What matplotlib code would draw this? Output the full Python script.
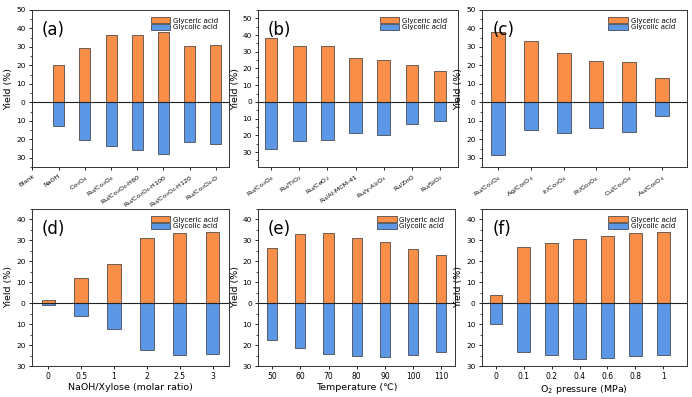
import matplotlib.pyplot as plt
from matplotlib.ticker import MultipleLocator, FuncFormatter
import matplotlib.transforms as mtransforms

# panel (a)
cat_a = ['Blank', 'NaOH', 'Co$_3$O$_4$', 'Ru/Co$_3$O$_4$', 'Ru/Co$_3$O$_4$-H60',
         'Ru/Co$_3$O$_4$-H100', 'Ru/Co$_3$O$_4$-H120', 'Ru/Co$_3$O$_4$-O']
glyceric_a = [0, 20.0, 29.5, 36.2, 36.7, 38.1, 30.6, 31.3]
glycolic_a = [0, 12.8, 20.1, 23.7, 25.7, 27.9, 21.2, 22.3]

# panel (b)
cat_b = ['Ru/Co$_3$O$_4$', 'Ru/TiO$_2$', 'Ru/CeO$_2$', 'Ru/Al-MCM-41',
         'Ru/γ-Al$_2$O$_3$', 'Ru/ZnO', 'Ru/SiO$_2$']
glyceric_b = [38.0, 33.7, 33.7, 26.3, 25.1, 21.9, 18.5]
glycolic_b = [28.3, 23.5, 22.5, 18.7, 19.9, 13.1, 11.2]

# panel (c)
cat_c = ['Ru/Co$_3$O$_4$', 'Ag/Co$_3$O$_4$', 'Ir/Co$_3$O$_4$', 'Pt/Co$_3$O$_4$',
         'Cu/Co$_3$O$_4$', 'Au/Co$_3$O$_4$']
glyceric_c = [38.2, 33.3, 26.6, 22.6, 21.6, 13.0]
glycolic_c = [28.3, 14.9, 16.7, 13.8, 15.8, 7.1]

# panel (d)
cat_d = ['0', '0.5', '1', '2', '2.5', '3']
glyceric_d = [1.3, 11.8, 18.8, 30.9, 33.3, 33.8]
glycolic_d = [0.8, 6.1, 12.3, 22.3, 24.7, 24.4]

# panel (e)
cat_e = ['50', '60', '70', '80', '90', '100', '110']
glyceric_e = [26.1, 33.1, 33.6, 30.9, 29.0, 25.7, 22.8]
glycolic_e = [17.5, 21.4, 24.4, 25.3, 25.7, 24.7, 23.4]

# panel (f)
cat_f = ['0', '0.1', '0.2', '0.4', '0.6', '0.8', '1']
glyceric_f = [3.7, 26.6, 28.5, 30.4, 31.9, 33.6, 33.8]
glycolic_f = [9.9, 23.3, 24.5, 26.6, 26.0, 25.2, 24.5]

ORANGE = '#F98E48'
BLUE = '#5B97E4'

fig = plt.figure(figsize=(6.92, 3.97), dpi=100)


def panel(rect, label, cats, gly_c, gly_l, ylim, xlim, width, xlabel=None, rotate=False):
    ax = fig.add_axes(rect)
    x = list(range(len(cats)))
    ax.bar(x, gly_c, width, color=ORANGE, edgecolor='#333333', linewidth=0.5,
           label='Glyceric acid', zorder=2)
    ax.bar(x, [-v for v in gly_l], width, color=BLUE, edgecolor='#333333', linewidth=0.5,
           label='Glycolic acid', zorder=2)
    ax.axhline(0, color='#222222', lw=0.8, zorder=3)
    ax.set_ylim(*ylim)
    ax.set_xlim(*xlim)
    ax.yaxis.set_major_locator(MultipleLocator(10))
    ax.yaxis.set_minor_locator(MultipleLocator(5))
    ax.yaxis.set_major_formatter(FuncFormatter(lambda v, p: '%d' % abs(round(v))))
    ax.set_xticks(x)
    if rotate:
        offset = mtransforms.ScaledTranslation(9 / 72, -1 / 72, fig.dpi_scale_trans)
        ax.set_xticklabels(cats, rotation=35, ha='right', rotation_mode='anchor', fontsize=4.6)
        for t in ax.get_xticklabels():
            t.set_transform(t.get_transform() + offset)
    else:
        ax.set_xticklabels(cats, fontsize=5.5)
    ax.tick_params(axis='both', direction='out', length=2.5, width=0.6, pad=2)
    ax.tick_params(axis='y', labelsize=5.3)
    ax.tick_params(axis='y', which='minor', length=1.5, width=0.5)
    for s in ax.spines.values():
        s.set_linewidth(0.7)
        s.set_color('#333333')
    ax.set_ylabel('Yield (%)', fontsize=6.8, labelpad=2)
    if xlabel:
        ax.set_xlabel(xlabel, fontsize=6.8, labelpad=1.5)
    ax.text(0.05, 0.93, label, transform=ax.transAxes, fontsize=12, va='top', ha='left')
    ax.legend(loc='upper right', frameon=False, fontsize=5, handlelength=2.8,
              handleheight=1.0, labelspacing=0, handletextpad=0.4, borderpad=0.2,
              bbox_to_anchor=(0.97, 0.985))
    return ax


top_y, bot_y, h = 0.579, 0.078, 0.396
panel([0.046, top_y, 0.285, h], '(a)', cat_a, glyceric_a, glycolic_a,
      (-35, 50), (-0.02, 7.5), 0.42, rotate=True)
panel([0.373, top_y, 0.289, h], '(b)', cat_b, glyceric_b, glycolic_b,
      (-39, 55), (-0.46, 6.64), 0.45, rotate=True)
panel([0.6965, top_y, 0.296, h], '(c)', cat_c, glyceric_c, glycolic_c,
      (-35, 50), (-0.5, 5.77), 0.43, rotate=True)
panel([0.046, bot_y, 0.285, h], '(d)', cat_d, glyceric_d, glycolic_d,
      (-30, 45), (-0.5, 5.5), 0.41, xlabel='NaOH/Xylose (molar ratio)')
panel([0.373, bot_y, 0.285, h], '(e)', cat_e, glyceric_e, glycolic_e,
      (-30, 45), (-0.5, 6.5), 0.36, xlabel='Temperature (℃)')
panel([0.6965, bot_y, 0.296, h], '(f)', cat_f, glyceric_f, glycolic_f,
      (-30, 45), (-0.5, 6.85), 0.46, xlabel='O$_2$ pressure (MPa)')

fig.savefig('out.png', dpi=100)
